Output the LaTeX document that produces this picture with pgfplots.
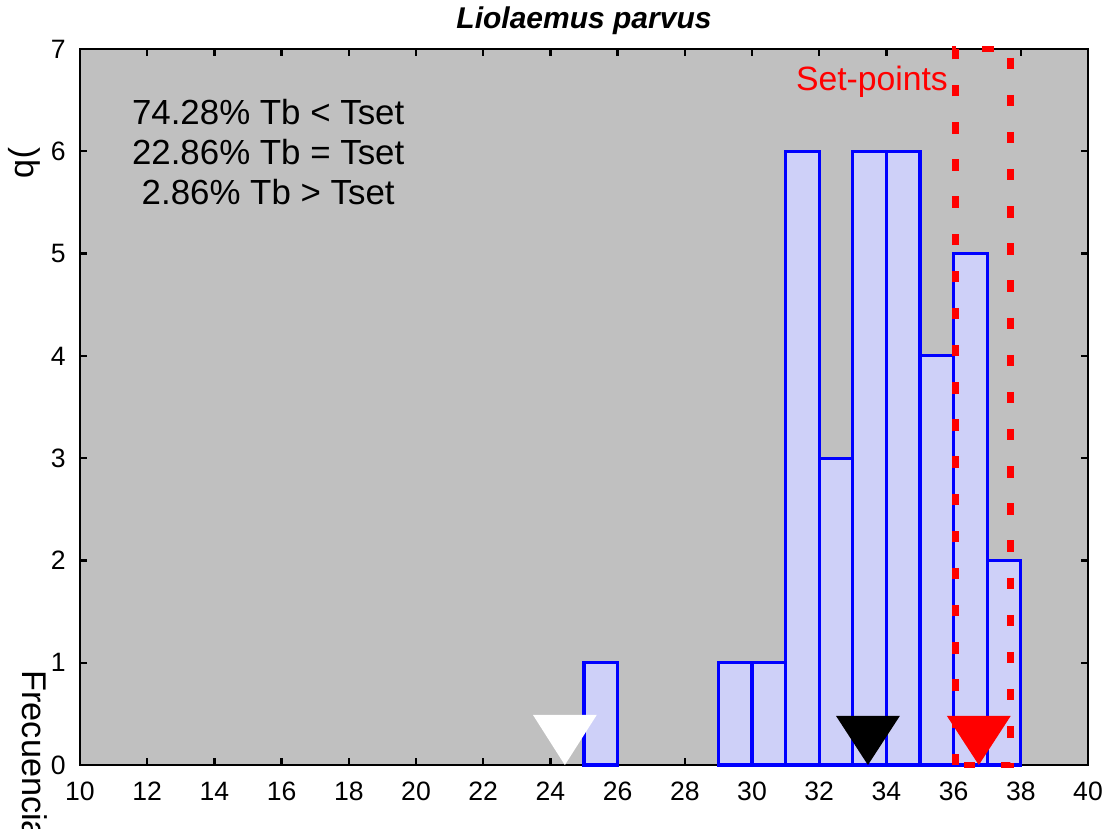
\documentclass[border=0pt]{standalone}
\usepackage{fontspec}
\setmainfont{Liberation Sans}
\usepackage{pgfplots}
\pgfplotsset{compat=1.18}
\definecolor{plotgray}{RGB}{192,192,192}
\definecolor{barfill}{RGB}{206,208,248}
\definecolor{barline}{RGB}{0,0,255}
\begin{document}
\begin{tikzpicture}[x=1pt,y=1pt]
\begin{axis}[name=ax, at={(0,0)}, anchor=south west,
  scale only axis, width=352.8pt, height=250.6pt,
  xmin=10, xmax=40, ymin=0, ymax=7,
  xtick={10,12,...,40}, ytick={0,1,...,7},
  tick align=inside, major tick length=2.5pt,
  every tick/.style={black,line width=0.8pt},
  axis line style={line width=1pt},
  axis background/.style={fill=plotgray},
  tick label style={font=\fontsize{9.3}{11}\selectfont},
  xticklabel style={yshift=-2.5pt},
  yticklabel style={xshift=-1.5pt},
  /pgf/number format/assume math mode=true,
  clip=false]
% histogram, bins of width 1
\addplot[ybar, bar width=1, bar shift=0, fill=barfill, draw=barline, line width=1.1pt]
  coordinates {(25.5,1) (29.5,1) (30.5,1) (31.5,6) (32.5,3) (33.5,6) (34.5,6) (35.5,4) (36.5,5) (37.5,2)};
% set-point range
\addplot[red, line width=2.4pt, dash pattern=on 4pt off 9pt]
  coordinates {(36.05,0) (36.05,7) (37.7,7) (37.7,0) (36.05,0)};
% markers
\addplot[fill=white, draw=none] coordinates {(23.48,0.49) (25.38,0.49) (24.43,0)} --cycle;
\addplot[fill=black, draw=none] coordinates {(32.5,0.48) (34.4,0.48) (33.45,0)} --cycle;
\addplot[fill=red, draw=none] coordinates {(35.8,0.48) (37.7,0.48) (36.75,0)} --cycle;
\node[align=center, font=\fontsize{12.2}{14}\selectfont] at (axis cs:15.6,5.99)
  {74.28\% Tb < Tset\\22.86\% Tb = Tset\\2.86\% Tb > Tset};
\node[red, font=\fontsize{11.8}{14}\selectfont] at (axis cs:33.57,6.68) {Set-points};
\end{axis}
\node[font=\fontsize{10.5}{12}\selectfont\bfseries\itshape] at (176.4,260.6) {Liolaemus parvus};
\node[rotate=-90, anchor=west, font=\fontsize{12}{14}\selectfont, inner sep=0pt] at (-15.8,33.3) {Frecuencia};
\node[rotate=-90, font=\fontsize{12}{14}\selectfont, inner sep=0pt] at (-19.6,210.7) {)b};
\pgfresetboundingbox
\path[use as bounding box] (-28,-22.05) rectangle (359.45,267.75);
\end{tikzpicture}
\end{document}
